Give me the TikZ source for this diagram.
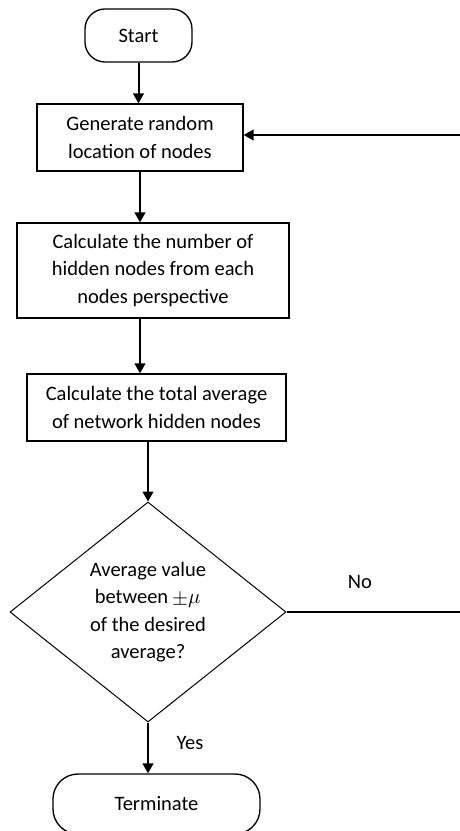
\documentclass[tikz,border=0pt]{standalone}
\usepackage{fontspec}
\setmainfont{Carlito}
\usepackage{unicode-math}
\usetikzlibrary{arrows.meta,shapes.geometric}
\begin{document}
\begin{tikzpicture}[x=0.6pt,y=-0.6pt,
  every node/.style={font=\fontsize{12.3pt}{16.5pt}\selectfont, align=center, inner sep=0pt},
  procbox/.style={draw, line width=0.8pt, rectangle},
  termbox/.style={draw, line width=0.8pt, rectangle, rounded corners=12pt},
  decbox/.style={draw, line width=0.6pt, diamond, aspect=1.2545},
  arr/.style={line width=1.2pt, -{Triangle[length=6pt,width=6.5pt]}},
  plainline/.style={line width=0.7pt}]
  \useasboundingbox (0,0) rectangle (460,831);

  % process flow
  \node[termbox, minimum width=64.2pt, minimum height=31.8pt] (start) at (138.5,35.5) {Start};
  \node[procbox, minimum width=123.6pt, minimum height=40.2pt] (gen) at (140,137.5)
    {Generate random\\location of nodes};
  \node[procbox, minimum width=163.2pt, minimum height=57pt] (calc) at (153,270.5)
    {Calculate the number of\\hidden nodes from each\\nodes perspective};
  \node[procbox, minimum width=155.4pt, minimum height=40.2pt] (avg) at (156.5,407.5)
    {Calculate the total average\\of network hidden nodes};
  \node[decbox, minimum width=165.6pt, minimum height=132pt] (dec) at (148,612)
    {Average value\\between $\pm\mu$\\of the desired\\average?};
  \node[termbox, rounded corners=15pt, minimum width=124.2pt, minimum height=36pt] (term) at (156.5,804)
    {Terminate};

  % loop-back ends
  \coordinate (fbin) at (460,135);
  \coordinate (noout) at (460,612);

  % connectors
  \draw[arr] (start.south) -- (start.south |- gen.north);
  \draw[arr] (gen.south) -- (gen.south |- calc.north);
  \draw[arr] (gen.south |- calc.south) -- (gen.south |- avg.north);
  \draw[arr] (dec.north |- avg.south) -- (dec.north);
  \draw[arr] (dec.south) -- (dec.south |- term.north);
  \draw[plainline] (dec.east) -- (noout);
  \draw[arr] (fbin) -- (gen.east |- fbin);

  % branch labels
  \node (no) at (360,582) {No};
  \node (yes) at (190,743) {Yes};
\end{tikzpicture}
\end{document}
